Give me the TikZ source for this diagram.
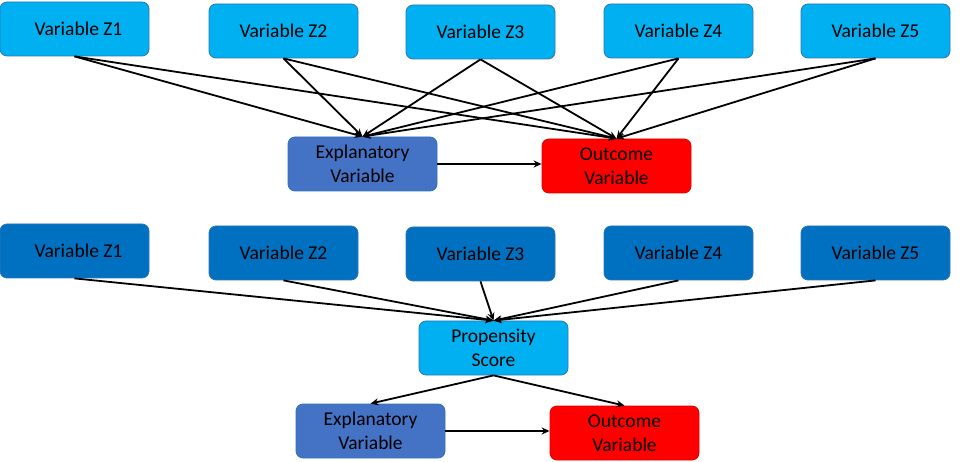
\documentclass[tikz,border=0pt]{standalone}
\usepackage{fontspec}
\setmainfont{Carlito}
\usetikzlibrary{arrows.meta}
\definecolor{lightb}{HTML}{00B0F0}
\definecolor{darkb}{HTML}{0070C0}
\definecolor{explb}{HTML}{4472C4}
\definecolor{outr}{HTML}{FF0000}
\definecolor{edgeb}{HTML}{2E75B6}
\tikzset{
  box/.style={rectangle, rounded corners=7pt, minimum width=149pt, minimum height=54pt,
    inner sep=0pt, align=center, text=black, font=\fontsize{19.5}{24}\selectfont, line width=0.8pt},
  zl/.style={box, fill=lightb, draw=edgeb},
  zd/.style={box, fill=darkb, draw=edgeb},
  ex/.style={box, fill=explb, draw=edgeb},
  oc/.style={box, fill=outr, draw=red!85!black},
  conn/.style={line width=1.8pt, -{Stealth[length=8pt,width=7pt]}},
}
\begin{document}
\begin{tikzpicture}[x=1pt,y=-1pt]
\useasboundingbox (0,0) rectangle (964,462);
% top diagram
\node[zl] (t1) at (74.5,29) {\hspace{8pt}Variable Z1};
\node[zl] (t2) at (283.5,31) {Variable Z2};
\node[zl] (t3) at (480.5,32) {Variable Z3};
\node[zl] (t4) at (678.5,31) {Variable Z4};
\node[zl] (t5) at (875.5,31) {Variable Z5};
\node[ex] (te) at (362.5,164) {Explanatory\\Variable};
\node[oc] (to) at (616.5,166) {Outcome\\Variable};
\foreach \s in {t1,t2,t3,t4,t5} {
  \draw[conn] (\s.south) -- (te.north);
  \draw[conn] (\s.south) -- (to.north);
}
\draw[conn] (te.east) -- (to.west |- te.east);
% bottom diagram
\node[zd] (b1) at (74.5,251) {\hspace{8pt}Variable Z1};
\node[zd] (b2) at (283.5,253) {Variable Z2};
\node[zd] (b3) at (480.5,254) {Variable Z3};
\node[zd] (b4) at (678.5,253) {Variable Z4};
\node[zd] (b5) at (875.5,253) {Variable Z5};
\node[zl] (bp) at (493.5,348) {Propensity\\Score};
\node[ex] (be) at (370.5,431) {Explanatory\\Variable};
\node[oc] (bo) at (624.5,433) {Outcome\\Variable};
\foreach \s in {b1,b2,b3,b4,b5} {
  \draw[conn] (\s.south) -- (bp.north);
}
\draw[conn] (bp.south) -- (be.north);
\draw[conn] (bp.south) -- (bo.north);
\draw[conn] (be.east) -- (bo.west |- be.east);
\end{tikzpicture}
\end{document}
